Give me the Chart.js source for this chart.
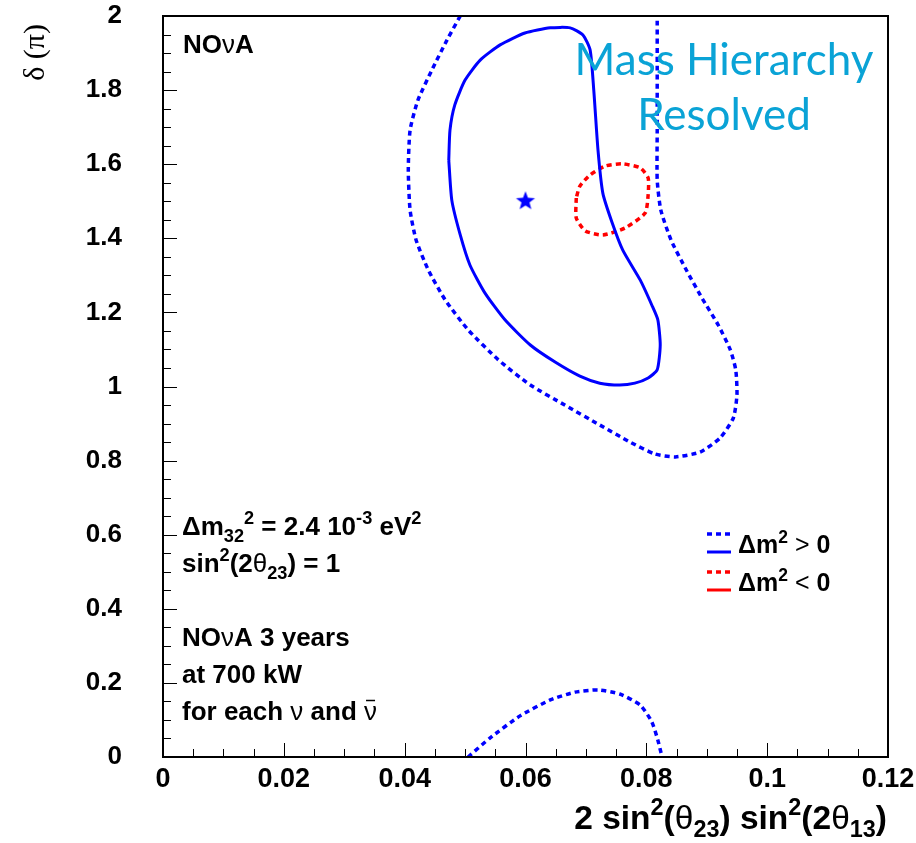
<!DOCTYPE html>
<html>
<head>
<meta charset="utf-8">
<script src="https://cdn.jsdelivr.net/npm/chart.js@4.4.0/dist/chart.umd.min.js"></script>
<style>
  html, body { margin: 0; padding: 0; background: #fff; }
  #wrap { width: 916px; height: 843px; }
</style>
</head>
<body>
<div id="wrap"><canvas id="chart" width="916" height="843"></canvas></div>
<script>
// axis ticks
const xTickValues = [0, 0.02, 0.04, 0.06, 0.08, 0.1, 0.12];
const yTickValues = [0, 0.2, 0.4, 0.6, 0.8, 1, 1.2, 1.4, 1.6, 1.8, 2];

// contours, [sin2 term, delta/pi]
// normal hierarchy (dm2 > 0), inner solid contour
const nhSolid = [
  [0.0473, 1.611], [0.0475, 1.692], [0.0483, 1.760], [0.0500, 1.827], [0.0525, 1.881],
  [0.0558, 1.922], [0.0599, 1.954], [0.0641, 1.968], [0.0674, 1.968], [0.0695, 1.949],
  [0.0707, 1.908], [0.0713, 1.800], [0.0720, 1.638], [0.0728, 1.522], [0.0743, 1.444],
  [0.0761, 1.368], [0.0790, 1.287], [0.0809, 1.220], [0.0819, 1.180], [0.0823, 1.112],
  [0.0818, 1.045], [0.0803, 1.023], [0.0781, 1.009], [0.0756, 1.004], [0.0723, 1.009],
  [0.0690, 1.028], [0.0649, 1.066], [0.0608, 1.112], [0.0566, 1.180], [0.0533, 1.252],
  [0.0508, 1.328], [0.0492, 1.409], [0.0478, 1.503], [0.0473, 1.611]
];
// normal hierarchy, outer dotted contour
const nhDotted = [
  [0.0492, 2.000], [0.0470, 1.935], [0.0445, 1.854], [0.0422, 1.773], [0.0409, 1.692],
  [0.0406, 1.584], [0.0409, 1.476], [0.0419, 1.395], [0.0439, 1.315], [0.0467, 1.234],
  [0.0505, 1.153], [0.0555, 1.072], [0.0608, 1.004], [0.0665, 0.950], [0.0723, 0.896],
  [0.0773, 0.850], [0.0814, 0.818], [0.0848, 0.810], [0.0889, 0.823], [0.0922, 0.861],
  [0.0944, 0.915], [0.0950, 0.977], [0.0948, 1.045], [0.0939, 1.099], [0.0919, 1.166],
  [0.0892, 1.239], [0.0866, 1.315], [0.0841, 1.395], [0.0824, 1.476], [0.0818, 1.557],
  [0.0818, 1.692], [0.0818, 1.854], [0.0818, 2.000]
];
// normal hierarchy, dotted island at small delta
const nhDottedLow = [
  [0.0505, 0.000], [0.0541, 0.051], [0.0591, 0.111], [0.0641, 0.154], [0.0682, 0.175],
  [0.0720, 0.181], [0.0756, 0.170], [0.0790, 0.140], [0.0809, 0.095], [0.0819, 0.046],
  [0.0826, 0.000]
];
// inverted hierarchy (dm2 < 0), dotted contour
const ihDotted = [
  [0.0684, 1.509], [0.0684, 1.455], [0.0699, 1.420], [0.0728, 1.409], [0.0765, 1.428],
  [0.0798, 1.468], [0.0803, 1.517], [0.0803, 1.563], [0.0790, 1.590], [0.0760, 1.601],
  [0.0732, 1.595], [0.0707, 1.571], [0.0690, 1.541], [0.0684, 1.509]
];
// simulated true point
const truePoint = [[0.06, 1.5]];

const BLUE = '#0000ff';
const RED = '#ff0000';
const SANS = '"Liberation Sans", Arial, Helvetica, sans-serif';
const SERIF = '"Liberation Serif", "Times New Roman", serif';

const pts = arr => arr.map(p => ({ x: p[0], y: p[1] }));

function makeStar(r, color) {
  const c = document.createElement('canvas');
  c.width = c.height = 2 * r + 2;
  const g = c.getContext('2d');
  g.fillStyle = color;
  g.beginPath();
  for (let i = 0; i < 10; i++) {
    const a = -Math.PI / 2 + i * Math.PI / 5;
    const rr = i % 2 ? r * 0.42 : r;
    g.lineTo(r + 1 + rr * Math.cos(a), r + 1 + rr * Math.sin(a));
  }
  g.closePath();
  g.fill();
  return c;
}

function contour(data, color, dotted) {
  return {
    data: pts(data),
    showLine: true,
    borderColor: color,
    borderWidth: dotted ? 3.5 : 3,
    borderDash: dotted ? [5, 4] : [],
    pointRadius: 0,
    tension: 0.2,
    fill: false
  };
}

// text with super/subscripts: parts are [text, kind, weight]
function drawRich(ctx, x, y, parts, size, align, family) {
  const fam = family || SANS;
  const items = parts.map(([t, kind, w]) => {
    const s = kind === 'n' ? size : size * 0.7;
    const dy = kind === 'sup' ? -size * 0.42 : kind === 'sub' ? size * 0.25 : 0;
    const font = `${w || 'bold'} ${s}px ${fam}`;
    ctx.font = font;
    return { t, font, dy, w: ctx.measureText(t).width };
  });
  const total = items.reduce((a, b) => a + b.w, 0);
  let cx = align === 'right' ? x - total : align === 'center' ? x - total / 2 : x;
  ctx.textAlign = 'left';
  ctx.textBaseline = 'alphabetic';
  items.forEach(it => {
    ctx.font = it.font;
    ctx.fillText(it.t, cx, y + it.dy);
    cx += it.w;
  });
  return cx;
}

const overlay = {
  id: 'overlay',
  afterDraw(chart) {
    const ctx = chart.ctx;
    const a = chart.chartArea;
    const xs = chart.scales.x, ys = chart.scales.y;
    ctx.save();
    ctx.fillStyle = '#000';
    ctx.strokeStyle = '#000';

    // inner tick marks
    ctx.lineWidth = 1;
    for (let i = 0; i <= 24; i++) {
      const px = Math.round(xs.getPixelForValue(i * 0.005)) + 0.5;
      const len = i % 4 === 0 ? 14 : 8;
      ctx.beginPath(); ctx.moveTo(px, a.bottom); ctx.lineTo(px, a.bottom - len); ctx.stroke();
    }
    for (let i = 0; i <= 40; i++) {
      const py = Math.round(ys.getPixelForValue(i * 0.05)) + 0.5;
      const len = i % 4 === 0 ? 14 : 8;
      ctx.beginPath(); ctx.moveTo(a.left, py); ctx.lineTo(a.left + len, py); ctx.stroke();
    }
    // frame
    ctx.lineWidth = 2;
    ctx.strokeRect(a.left, a.top, a.right - a.left, a.bottom - a.top);

    // axis titles
    drawRich(ctx, 887, 829, [
      ['2 sin', 'n'], ['2', 'sup'], ['(', 'n'], ['\u03b8', 'n', 'normal'], ['23', 'sub'], [') sin', 'n'],
      ['2', 'sup'], ['(2', 'n'], ['\u03b8', 'n', 'normal'], ['13', 'sub'], [')', 'n']
    ], 33.5, 'right');
    ctx.save();
    ctx.translate(44, 24);
    ctx.rotate(-Math.PI / 2);
    ctx.font = `30px ${SERIF}`;
    ctx.textAlign = 'right';
    ctx.textBaseline = 'alphabetic';
    ctx.fillText('\u03b4 (\u03c0)', 0, 0);
    ctx.restore();

    // annotations
    drawRich(ctx, 183, 53, [['NO', 'n'], ['\u03bd', 'n', 'normal'], ['A', 'n']], 26, 'left');
    drawRich(ctx, 182, 535, [
      ['\u0394m', 'n'], ['32', 'sub'], ['2', 'sup'], [' = 2.4 10', 'n'], ['-3', 'sup'], [' eV', 'n'], ['2', 'sup']
    ], 26, 'left');
    drawRich(ctx, 182, 572, [
      ['sin', 'n'], ['2', 'sup'], ['(2', 'n'], ['\u03b8', 'n', 'normal'], ['23', 'sub'], [') = 1', 'n']
    ], 26, 'left');
    drawRich(ctx, 182, 646, [['NO', 'n'], ['\u03bd', 'n', 'normal'], ['A 3 years', 'n']], 26, 'left');
    drawRich(ctx, 182, 683, [['at 700 kW', 'n']], 26, 'left');
    const before = drawRich(ctx, 182, 720, [['for each ', 'n'], ['\u03bd', 'n', 'normal'], [' and ', 'n']], 26, 'left');
    const endNu = drawRich(ctx, before, 720, [['\u03bd', 'n', 'normal']], 26, 'left');
    ctx.lineWidth = 1.5;
    ctx.beginPath(); ctx.moveTo(before + 2, 700.5); ctx.lineTo(endNu - 2, 700.5); ctx.stroke();

    // legend
    const legend = [
      { color: BLUE, y: 534, label: '>' },
      { color: RED, y: 572, label: '<' }
    ];
    legend.forEach(l => {
      ctx.strokeStyle = l.color;
      ctx.lineWidth = 3.5;
      ctx.setLineDash([5, 4]);
      ctx.beginPath(); ctx.moveTo(707, l.y); ctx.lineTo(731, l.y); ctx.stroke();
      ctx.setLineDash([]);
      ctx.lineWidth = 3;
      ctx.beginPath(); ctx.moveTo(707, l.y + 18); ctx.lineTo(731, l.y + 18); ctx.stroke();
      ctx.fillStyle = '#000';
      drawRich(ctx, 738, l.y + 19, [['\u0394m', 'n'], ['2', 'sup'], [' ' + l.label + ' ', 'n', 'normal'], ['0', 'n']], 25, 'left');
    });

    // highlight text
    ctx.fillStyle = '#0aa3d6';
    ctx.font = `44px Lato, "Open Sans", sans-serif`;
    ctx.textAlign = 'center';
    ctx.textBaseline = 'alphabetic';
    ctx.fillText('Mass Hierarchy', 724, 75);
    ctx.fillText('Resolved', 724, 130);
    ctx.restore();
  }
};

const chart = new Chart(document.getElementById('chart'), {
  type: 'scatter',
  data: {
    datasets: [
      contour(nhDotted, BLUE, true),
      contour(nhDottedLow, BLUE, true),
      contour(nhSolid, BLUE, false),
      contour(ihDotted, RED, true),
      {
        data: pts(truePoint),
        pointStyle: makeStar(10, BLUE),
        pointRadius: 10,
        showLine: false
      }
    ]
  },
  options: {
    responsive: false,
    animation: false,
    devicePixelRatio: 1,
    layout: { autoPadding: false, padding: { top: 16, right: 28, left: 0, bottom: 0 } },
    plugins: { legend: { display: false }, tooltip: { enabled: false } },
    scales: {
      x: {
        type: 'linear',
        min: 0,
        max: 0.12,
        afterBuildTicks: s => { s.ticks = xTickValues.map(v => ({ value: v })); },
        afterFit: s => { s.height = 86; s.paddingLeft = 0; s.paddingRight = 0; },
        grid: { display: false, drawTicks: false },
        border: { display: false },
        ticks: {
          autoSkip: false,
          maxRotation: 0,
          padding: 6,
          color: '#000',
          font: { family: SANS, size: 27, weight: 'bold' },
          callback: v => String(+v.toFixed(2))
        }
      },
      y: {
        type: 'linear',
        min: 0,
        max: 2,
        afterBuildTicks: s => { s.ticks = yTickValues.map(v => ({ value: v })); },
        afterFit: s => { s.width = 163; s.paddingTop = 0; s.paddingBottom = 0; },
        grid: { display: false, drawTicks: false },
        border: { display: false },
        ticks: {
          autoSkip: false,
          padding: 41,
          color: '#000',
          font: { family: SANS, size: 26, weight: 'bold' },
          callback: v => String(+v.toFixed(2))
        }
      }
    }
  },
  plugins: [overlay]
});
</script>
</body>
</html>
